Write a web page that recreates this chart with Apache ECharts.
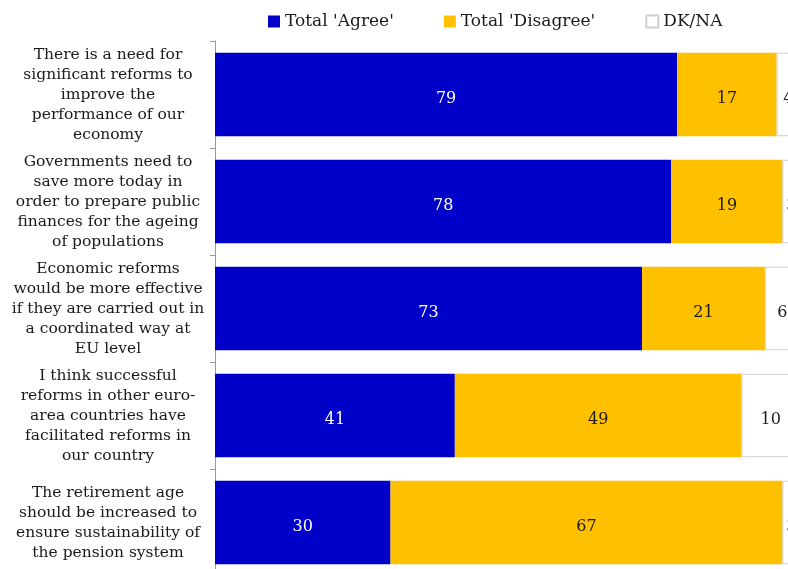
<!DOCTYPE html>
<html>
<head>
<meta charset="utf-8">
<script src="https://cdn.jsdelivr.net/npm/echarts@6/dist/echarts.min.js"></script>
<style>html,body{margin:0;padding:0;background:#fff;overflow:hidden}#c{width:800px;height:576px}</style>
</head>
<body>
<div id="c"></div>
<script>
const categories = [
  "There is a need for\nsignificant reforms to\nimprove the\nperformance of our\neconomy",
  "Governments need to\nsave more today in\norder to prepare public\nfinances for the ageing\nof populations",
  "Economic reforms\nwould be more effective\nif they are carried out in\na coordinated way at\nEU level",
  "I think successful\nreforms in other euro-\narea countries have\nfacilitated reforms in\nour country",
  "The retirement age\nshould be increased to\nensure sustainability of\nthe pension system"
];
const agree = [79, 78, 73, 41, 30];
const disagree = [17, 19, 21, 49, 67];
const dkna = [4, 3, 6, 10, 3];
const seriesNames = ["Total 'Agree'", "Total 'Disagree'", "DK/NA"];

const FONT = "DejaVu Serif";
const chart = echarts.init(document.getElementById('c'), null, {renderer: 'canvas'});
const lbl = (color) => ({show: true, position: 'inside', offset: [0, 4], color: color, fontFamily: FONT, fontSize: 16});
chart.setOption({
  animation: false,
  legend: {
    top: 8, left: 263, itemWidth: 12, itemHeight: 12, itemGap: 50,
    icon: 'rect',
    textStyle: {fontFamily: FONT, fontSize: 17, color: '#1a1a1a'},
    data: seriesNames
  },
  grid: {left: 215, right: 0, top: 41, bottom: 0, containLabel: false},
  xAxis: {type: 'value', min: 0, max: 100, show: false},
  yAxis: {
    type: 'category', inverse: true, data: categories,
    axisLine: {show: true, lineStyle: {color: '#999', width: 1}},
    axisTick: {show: true, length: 5, lineStyle: {color: '#999'}},
    axisLabel: {fontFamily: FONT, fontSize: 15.5, color: '#1a1a1a', align: 'center', margin: 107, lineHeight: 20}
  },
  series: [
    {name: seriesNames[0], type: 'bar', stack: 't', data: agree, barCategoryGap: '22%',
     itemStyle: {color: '#0000C8'}, label: lbl('#ffffff')},
    {name: seriesNames[1], type: 'bar', stack: 't', data: disagree,
     itemStyle: {color: '#FFC000'}, label: lbl('#1a1a1a')},
    {name: seriesNames[2], type: 'bar', stack: 't', data: dkna,
     itemStyle: {color: '#ffffff', borderColor: '#cfcfcf', borderWidth: 1}, label: lbl('#1a1a1a')}
  ]
});
</script>
</body>
</html>
